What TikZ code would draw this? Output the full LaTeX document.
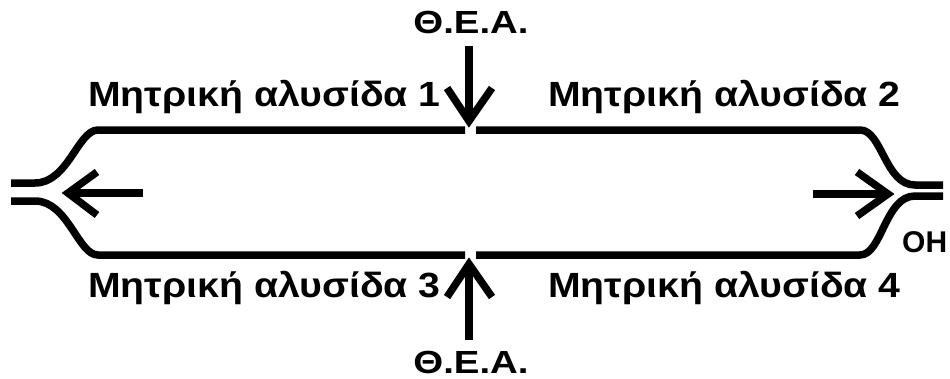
\documentclass[tikz,border=0pt]{standalone}
\usepackage{fontspec}
\setmainfont{Liberation Sans}
\begin{document}
\begin{tikzpicture}[x=1pt,y=-1pt,
  thick line/.style={line width=7.5pt, line cap=butt, line join=miter},
  chainlabel/.style={inner sep=0pt, anchor=base west, font=\bfseries\fontsize{35}{42}\selectfont, xscale=1.12},
  enzyme/.style={inner sep=0pt, anchor=base, font=\bfseries\fontsize{32}{38}\selectfont, xscale=1.2},
  endlabel/.style={inner sep=0pt, anchor=base west, font=\bfseries\fontsize{30}{36}\selectfont}]
\useasboundingbox (0,0) rectangle (950,378);

% parent strands with their forked ends
\draw[thick line] (465,130) -- (98,130) .. controls (78,130) and (68,183) .. (35,183) -- (11,183);
\draw[thick line] (465,255) -- (98,255) .. controls (78,255) and (68,201) .. (35,201) -- (11,201);
\draw[thick line] (476,130) -- (860,130) .. controls (882,130) and (885,185) .. (915,185) -- (943,185);
\draw[thick line] (476,255) -- (860,255) .. controls (882,255) and (885,196) .. (915,196) -- (943,196);

% direction of replication
\draw[thick line] (143,193) -- (70,193);
\draw[thick line] (97,172) -- (68,193) -- (97,215);
\draw[thick line] (813,194) -- (886,194);
\draw[thick line] (857,172) -- (888,194) -- (857,216);

% enzyme entry points
\draw[thick line] (469,46) -- (469,118);
\draw[thick line] (447,88) -- (469,121) -- (492,88);
\draw[thick line] (469,340) -- (469,268);
\draw[thick line] (447,297) -- (469,264) -- (492,297);

% labels
\node[chainlabel] (c1) at (88,106) {Μητρική αλυσίδα 1};
\node[chainlabel] (c2) at (548,106) {Μητρική αλυσίδα 2};
\node[chainlabel] (c3) at (88,297) {Μητρική αλυσίδα 3};
\node[chainlabel] (c4) at (548,297) {Μητρική αλυσίδα 4};
\node[enzyme] (e1) at (471,33) {Θ.Ε.Α.};
\node[enzyme] (e2) at (471,373) {Θ.Ε.Α.};
\node[endlabel] (oh) at (902,252) {OH};
\end{tikzpicture}
\end{document}
